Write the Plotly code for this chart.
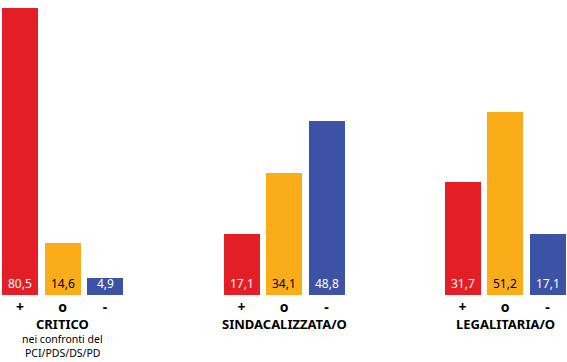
import plotly.graph_objects as go

groups = ["CRITICO", "SINDACALIZZATA/O", "LEGALITARIA/O"]
subtitle = ["nei confronti del", "PCI/PDS/DS/PD"]
signs = ["+", "o", "-"]
values_plus = [80.5, 17.1, 31.7]
values_o = [14.6, 34.1, 51.2]
values_minus = [4.9, 48.8, 17.1]

colors = ["#E41E26", "#FAAD19", "#3B52A5"]
text_colors = ["white", "black", "white"]

series = [values_plus, values_o, values_minus]
group_centers = [62.5, 284, 505]
offset = 42.5

fig = go.Figure()
tickvals, ticktext = [], []
for k, vals in enumerate(series):
    xs = [gc + (k - 1) * offset for gc in group_centers]
    tickvals += xs
    ticktext += ["<b>%s</b>" % signs[k]] * len(xs)
    fig.add_trace(go.Bar(
        x=xs, y=vals, width=36,
        marker=dict(color=colors[k], line=dict(width=0)),
        showlegend=False, hoverinfo="skip",
    ))
    for x, v in zip(xs, vals):
        fig.add_annotation(x=x, y=0, xref="x", yref="y", yanchor="bottom",
                           yshift=1, showarrow=False,
                           text=("%.1f" % v).replace(".", ","),
                           font=dict(size=12, color=text_colors[k], family="Noto Sans"))

for gc, g in zip(group_centers, groups):
    fig.add_annotation(x=gc, y=0, xref="x", yref="y", yanchor="middle",
                       yshift=-29, text="<b>%s</b>" % g, showarrow=False,
                       font=dict(size=13, color="black", family="Noto Sans"))
for i, s in enumerate(subtitle):
    fig.add_annotation(x=group_centers[0], y=0, xref="x", yref="y", yanchor="middle",
                       yshift=-44 - i * 14, text=s, showarrow=False,
                       font=dict(size=10.5, color="black", family="Noto Sans"))

fig.update_layout(
    width=567, height=362,
    margin=dict(l=0, r=0, t=0, b=67, autoexpand=False),
    plot_bgcolor="white", paper_bgcolor="white",
    bargap=0,
    xaxis=dict(range=[0, 567], tickvals=tickvals, ticktext=ticktext,
               showgrid=False, zeroline=False, showline=False, ticks="",
               ticklabelstandoff=2,
               tickfont=dict(size=14, color="black", family="Noto Sans")),
    yaxis=dict(range=[0, 82.7], visible=False, showgrid=False, zeroline=False),
)
fig.write_html("out.html", config={"displayModeBar": False},
               post_script="document.body.style.margin='0';document.body.style.overflow='hidden';")
